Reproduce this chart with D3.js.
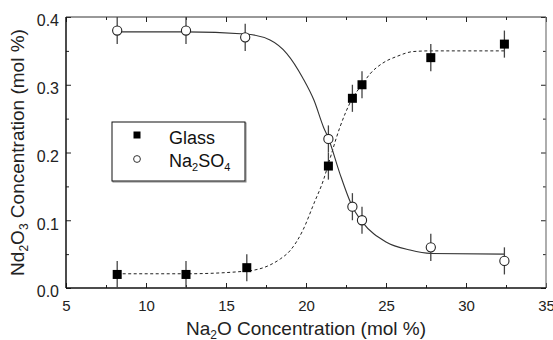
<!DOCTYPE html>
<html>
<head>
<meta charset="utf-8">
<script src="https://cdn.jsdelivr.net/npm/d3@7"></script>
<style>
  html, body { margin: 0; padding: 0; background: #fff; }
  svg { display: block; font-family: Arial, "Liberation Sans", Helvetica, sans-serif; }
</style>
</head>
<body>
<svg id="chart" width="553" height="340"></svg>
<script>
// ---- data ----
const glassX = [8.2, 12.5, 16.3, 21.4, 22.9, 23.5, 27.8, 32.4];
const glassY = [0.02, 0.02, 0.03, 0.18, 0.28, 0.30, 0.34, 0.36];
const sulfX  = [8.2, 12.5, 16.2, 21.4, 22.9, 23.5, 27.8, 32.4];
const sulfY  = [0.38, 0.38, 0.37, 0.22, 0.12, 0.10, 0.06, 0.04];
const errY   = 0.02;
// fitted curves
const sulfFitX = [8.2, 12.5, 16.2, 17.75, 18.8, 19.8, 20.5, 21.1, 21.4, 22.1, 22.9, 23.5, 25.0, 26.5, 27.8, 32.4];
const sulfFitY = [0.378, 0.378, 0.375, 0.366, 0.346, 0.310, 0.277, 0.237, 0.221, 0.170, 0.120, 0.098, 0.068, 0.056, 0.051, 0.050];
const glassFitX = [8.2, 12.5, 16.3, 17.75, 18.4, 19.0, 19.8, 20.5, 21.1, 21.4, 22.1, 22.9, 23.5, 24.0, 24.8, 25.7, 26.7, 27.8, 32.4];
const glassFitY = [0.021, 0.021, 0.025, 0.034, 0.043, 0.055, 0.085, 0.125, 0.160, 0.183, 0.236, 0.280, 0.300, 0.316, 0.332, 0.342, 0.349, 0.350, 0.350];
const xTicks = [5, 10, 15, 20, 25, 30, 35];
const xMinor = [7.5, 12.5, 17.5, 22.5, 27.5, 32.5];
const yTicks = [0.0, 0.1, 0.2, 0.3, 0.4];
const yMinor = [0.05, 0.15, 0.25, 0.35];

const svg = d3.select("#chart");
const L = 66, R = 546, T = 17, B = 288;
const x = d3.scaleLinear().domain([5, 35]).range([L, R]);
const y = d3.scaleLinear().domain([0, 0.4]).range([B, T]);

// ---- axes ----
function styleAxis(g) {
  g.select(".domain").remove();
  g.selectAll("line").attr("stroke", "#222");
}
// bottom
svg.append("g").attr("transform", `translate(0,${B})`)
  .call(d3.axisBottom(x).tickValues(xTicks).tickSizeInner(-5).tickSizeOuter(0).tickPadding(12).tickFormat(d3.format("d")))
  .call(styleAxis)
  .call(g => g.selectAll("text").attr("font-size", 15).attr("fill", "#222").attr("font-family", "Arial, 'Liberation Sans', sans-serif"));
svg.append("g").attr("transform", `translate(0,${B})`)
  .call(d3.axisBottom(x).tickValues(xMinor).tickSizeInner(-3).tickSizeOuter(0).tickFormat(""))
  .call(styleAxis);
// top
svg.append("g").attr("transform", `translate(0,${T})`)
  .call(d3.axisTop(x).tickValues(xTicks).tickSizeInner(-5).tickSizeOuter(0).tickFormat(""))
  .call(styleAxis);
svg.append("g").attr("transform", `translate(0,${T})`)
  .call(d3.axisTop(x).tickValues(xMinor).tickSizeInner(-3).tickSizeOuter(0).tickFormat(""))
  .call(styleAxis);
// left
svg.append("g").attr("transform", `translate(${L},0)`)
  .call(d3.axisLeft(y).tickValues(yTicks).tickSizeInner(-5).tickSizeOuter(0).tickPadding(7).tickFormat(d3.format(".1f")))
  .call(styleAxis)
  .call(g => g.selectAll("text").attr("font-size", 16).attr("dy", "0.56em").attr("fill", "#222").attr("font-family", "Arial, 'Liberation Sans', sans-serif"));
svg.append("g").attr("transform", `translate(${L},0)`)
  .call(d3.axisLeft(y).tickValues(yMinor).tickSizeInner(-3).tickSizeOuter(0).tickFormat(""))
  .call(styleAxis);
// right
svg.append("g").attr("transform", `translate(${R},0)`)
  .call(d3.axisRight(y).tickValues(yTicks).tickSizeInner(-5).tickSizeOuter(0).tickFormat(""))
  .call(styleAxis);
svg.append("g").attr("transform", `translate(${R},0)`)
  .call(d3.axisRight(y).tickValues(yMinor).tickSizeInner(-3).tickSizeOuter(0).tickFormat(""))
  .call(styleAxis);

// frame
svg.append("line").attr("x1", L).attr("x2", R).attr("y1", T).attr("y2", T).attr("stroke", "#333").attr("stroke-width", 1);
svg.append("line").attr("x1", R).attr("x2", R).attr("y1", T).attr("y2", B).attr("stroke", "#777").attr("stroke-width", 1.2);
svg.append("line").attr("x1", L).attr("x2", L).attr("y1", T).attr("y2", B).attr("stroke", "#111").attr("stroke-width", 1.5);
svg.append("line").attr("x1", L).attr("x2", R).attr("y1", B).attr("y2", B).attr("stroke", "#111").attr("stroke-width", 1.5);

// ---- fit curves ----
const line = d3.line().x(d => x(d[0])).y(d => y(d[1])).curve(d3.curveMonotoneX);
svg.append("path").datum(glassFitX.map((v, i) => [v, glassFitY[i]]))
  .attr("d", line).attr("fill", "none").attr("stroke", "#222").attr("stroke-width", 1).attr("stroke-dasharray", "3,2.5");
svg.append("path").datum(sulfFitX.map((v, i) => [v, sulfFitY[i]]))
  .attr("d", line).attr("fill", "none").attr("stroke", "#333").attr("stroke-width", 1.1);

// ---- error bars ----
const glassData = glassX.map((v, i) => ({ x: v, y: glassY[i] }));
const sulfData = sulfX.map((v, i) => ({ x: v, y: sulfY[i] }));
[glassData, sulfData].forEach(data => {
  svg.append("g").selectAll("line").data(data).join("line")
    .attr("x1", d => x(d.x)).attr("x2", d => x(d.x))
    .attr("y1", d => y(d.y + errY)).attr("y2", d => y(d.y - errY))
    .attr("stroke", "#444").attr("stroke-width", 1.3);
});

// ---- markers ----
const sq = 9;
svg.append("g").selectAll("rect").data(glassData).join("rect")
  .attr("x", d => x(d.x) - sq / 2).attr("y", d => y(d.y) - sq / 2)
  .attr("width", sq).attr("height", sq).attr("fill", "#000");
svg.append("g").selectAll("circle").data(sulfData).join("circle")
  .attr("cx", d => x(d.x)).attr("cy", d => y(d.y)).attr("r", 4.6)
  .attr("fill", "#fff").attr("stroke", "#222").attr("stroke-width", 1.1);

// ---- legend ----
const lg = svg.append("g");
lg.append("rect").attr("x", 113).attr("y", 123).attr("width", 133).attr("height", 59).attr("fill", "none").attr("stroke", "#888").attr("stroke-width", 1);
lg.append("rect").attr("x", 112).attr("y", 122).attr("width", 133).attr("height", 59).attr("fill", "#fff").attr("stroke", "#111").attr("stroke-width", 1);
lg.append("rect").attr("x", 133.5).attr("y", 131.5).attr("width", 7).attr("height", 7).attr("fill", "#000");
lg.append("circle").attr("cx", 137).attr("cy", 159).attr("r", 3.4).attr("fill", "#fff").attr("stroke", "#333").attr("stroke-width", 1);
lg.append("text").attr("x", 169).attr("y", 144).attr("font-size", 18).attr("fill", "#111").text("Glass");
const t2 = lg.append("text").attr("x", 169).attr("y", 167).attr("font-size", 18).attr("fill", "#111");
t2.append("tspan").text("Na");
t2.append("tspan").attr("font-size", 11).attr("dy", 4).text("2");
t2.append("tspan").attr("dy", -4).text("SO");
t2.append("tspan").attr("font-size", 11).attr("dy", 4).text("4");

// ---- axis titles ----
const xt = svg.append("text").attr("x", (L + R) / 2).attr("y", 335).attr("text-anchor", "middle")
  .attr("font-size", 19).attr("fill", "#222");
xt.append("tspan").text("Na");
xt.append("tspan").attr("font-size", 12).attr("dy", 4).text("2");
xt.append("tspan").attr("dy", -4).text("O Concentration (mol %)");

const yt = svg.append("text").attr("transform", `translate(24,${(T + B) / 2}) rotate(-90)`).attr("text-anchor", "middle")
  .attr("font-size", 19).attr("fill", "#222");
yt.append("tspan").text("Nd");
yt.append("tspan").attr("font-size", 12).attr("dy", 4).text("2");
yt.append("tspan").attr("dy", -4).text("O");
yt.append("tspan").attr("font-size", 12).attr("dy", 4).text("3");
yt.append("tspan").attr("dy", -4).text(" Concentration (mol %)");
</script>
</body>
</html>
